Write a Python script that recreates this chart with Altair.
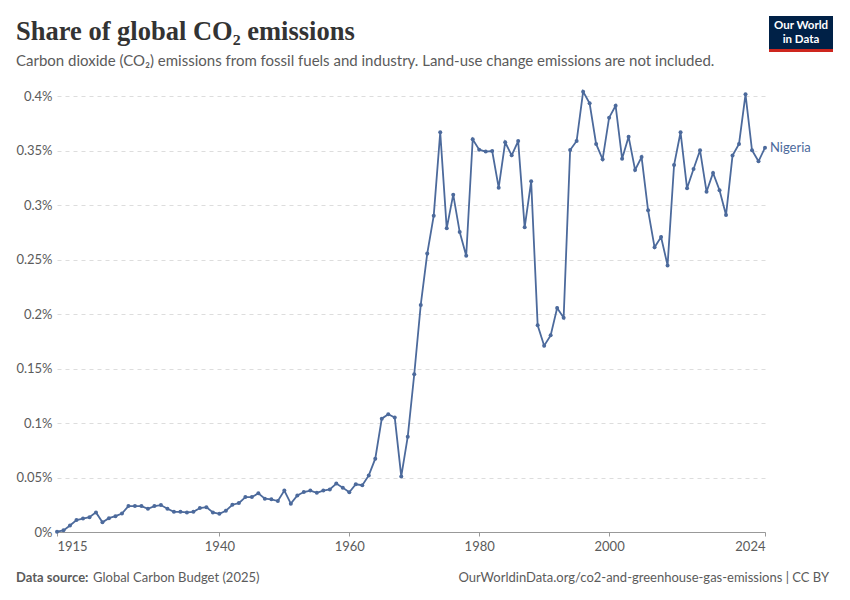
import altair as alt
import pandas as pd

# Nigeria, share of global CO2 emissions (%)
years = list(range(1915, 2025))
share = [
    0.0003, 0.0015, 0.006, 0.011, 0.0123, 0.0136, 0.018, 0.009, 0.0127, 0.0145,
    0.017, 0.0238, 0.0238, 0.0238, 0.0213, 0.0238, 0.0247, 0.0213, 0.0185, 0.0185,
    0.018, 0.0185, 0.022, 0.0228, 0.018, 0.0167, 0.0195, 0.025, 0.0265, 0.032,
    0.032, 0.0355, 0.0306, 0.030, 0.0284, 0.038, 0.026, 0.0336, 0.0367, 0.038,
    0.036, 0.038, 0.039, 0.0444, 0.0407, 0.0364, 0.0438, 0.0429, 0.0519, 0.0673,
    0.104, 0.108, 0.105, 0.051, 0.0875, 0.1447, 0.2083, 0.2554, 0.2902, 0.3667,
    0.2786, 0.3095, 0.2752, 0.2535, 0.3603, 0.3508, 0.349, 0.3495, 0.3159, 0.3575,
    0.3456, 0.3587, 0.2795, 0.3217, 0.1896, 0.1709, 0.1804, 0.2055, 0.1966, 0.3505,
    0.3587, 0.404, 0.3933, 0.356, 0.3419, 0.3801, 0.3911, 0.3425, 0.3627, 0.3321,
    0.344, 0.2951, 0.2612, 0.2706, 0.2446, 0.3367, 0.3667, 0.3153, 0.333, 0.3502,
    0.3122, 0.3294, 0.3135, 0.2908, 0.3453, 0.356, 0.4015, 0.3502, 0.3401, 0.3526,
]
country = "Nigeria"

y_ticks = [0, 0.05, 0.1, 0.15, 0.2, 0.25, 0.3, 0.35, 0.4]
x_ticks = [1915, 1940, 1960, 1980, 2000, 2024]

title = "Share of global CO₂ emissions"
subtitle = ("Carbon dioxide (CO₂) emissions from fossil fuels and industry. "
            "Land-use change emissions are not included.")
source_label = "Data source:"
source_text = "Global Carbon Budget (2025)"
footer_right = "OurWorldinData.org/co2-and-greenhouse-gas-emissions | CC BY"

LINE = "#4c6a9c"
GREY = "#5b5b5b"
FONT = "Lato"

df = pd.DataFrame({"year": years, "share": share, "country": country})

x_enc = alt.X(
    "year:Q",
    scale=alt.Scale(domain=[1915, 2024], nice=False, zero=False),
    axis=alt.Axis(
        values=x_ticks, format="d", title=None, grid=False,
        labelFlush=True, labelColor=GREY, labelFontSize=13, labelFont=FONT,
        labelPadding=4, tickSize=4, tickColor="#999999",
        domainColor="#999999",
    ),
)
y_enc = alt.Y(
    "share:Q",
    scale=alt.Scale(domain=[0, 0.4], nice=False),
    axis=alt.Axis(
        values=y_ticks, labelExpr="datum.value + '%'", title=None,
        domain=False, ticks=False, labelPadding=5,
        labelColor=GREY, labelFontSize=13, labelFont=FONT,
        gridColor="#dddddd", gridDash=[4, 4],
    ),
)

base = alt.Chart(df)
line = base.mark_line(color=LINE, strokeWidth=1.8).encode(x=x_enc, y=y_enc)
dots = base.mark_circle(color=LINE, size=16, opacity=1).encode(x="year:Q", y="share:Q")
label = base.transform_filter("datum.year == 2024").mark_text(
    align="left", baseline="middle", dx=5, color=LINE, font=FONT, fontSize=13
).encode(x="year:Q", y="share:Q", text="country:N")


def note(text, x, y, **kw):
    return alt.Chart(pd.DataFrame({"t": [text]})).mark_text(
        baseline="alphabetic", **kw
    ).encode(x=alt.value(x), y=alt.value(y), text="t:N")


head = note(title, -41, -56, align="left", font="Liberation Serif",
            fontSize=26.5, fontWeight="bold", color="#333333")
sub = note(subtitle, -41, -30, align="left", font=FONT, fontSize=15, color=GREY)
src_b = note(source_label, -41, 486, align="left", font=FONT, fontSize=13,
             fontWeight="bold", color=GREY)
src_t = note(source_text, 36, 486, align="left", font=FONT, fontSize=13, color=GREY)
foot = note(footer_right, 772, 486, align="right", font=FONT, fontSize=13, color=GREY)

logo_df = pd.DataFrame({"a": [0]})
logo_box = alt.Chart(logo_df).mark_rect(color="#002147").encode(
    x=alt.value(712), x2=alt.value(776), y=alt.value(-80), y2=alt.value(-47)
)
logo_bar = alt.Chart(logo_df).mark_rect(color="#ce261e").encode(
    x=alt.value(712), x2=alt.value(776), y=alt.value(-47), y2=alt.value(-44)
)
logo_1 = note("Our World", 744, -67, align="center", font=FONT, fontSize=11.5,
              fontWeight="bold", color="white")
logo_2 = note("in Data", 744, -53, align="center", font=FONT, fontSize=11.5,
              fontWeight="bold", color="white")

chart = alt.layer(
    line, dots, label, head, sub, src_b, src_t, foot,
    logo_box, logo_bar, logo_1, logo_2,
).properties(
    width=708, height=436,
    autosize=alt.AutoSizeParams(type="none"),
    padding={"left": 49, "top": 88, "right": 77, "bottom": 60},
    background="white",
).configure_view(stroke=None)

chart.save("out.html", embed_options={"renderer": "svg", "actions": False})
